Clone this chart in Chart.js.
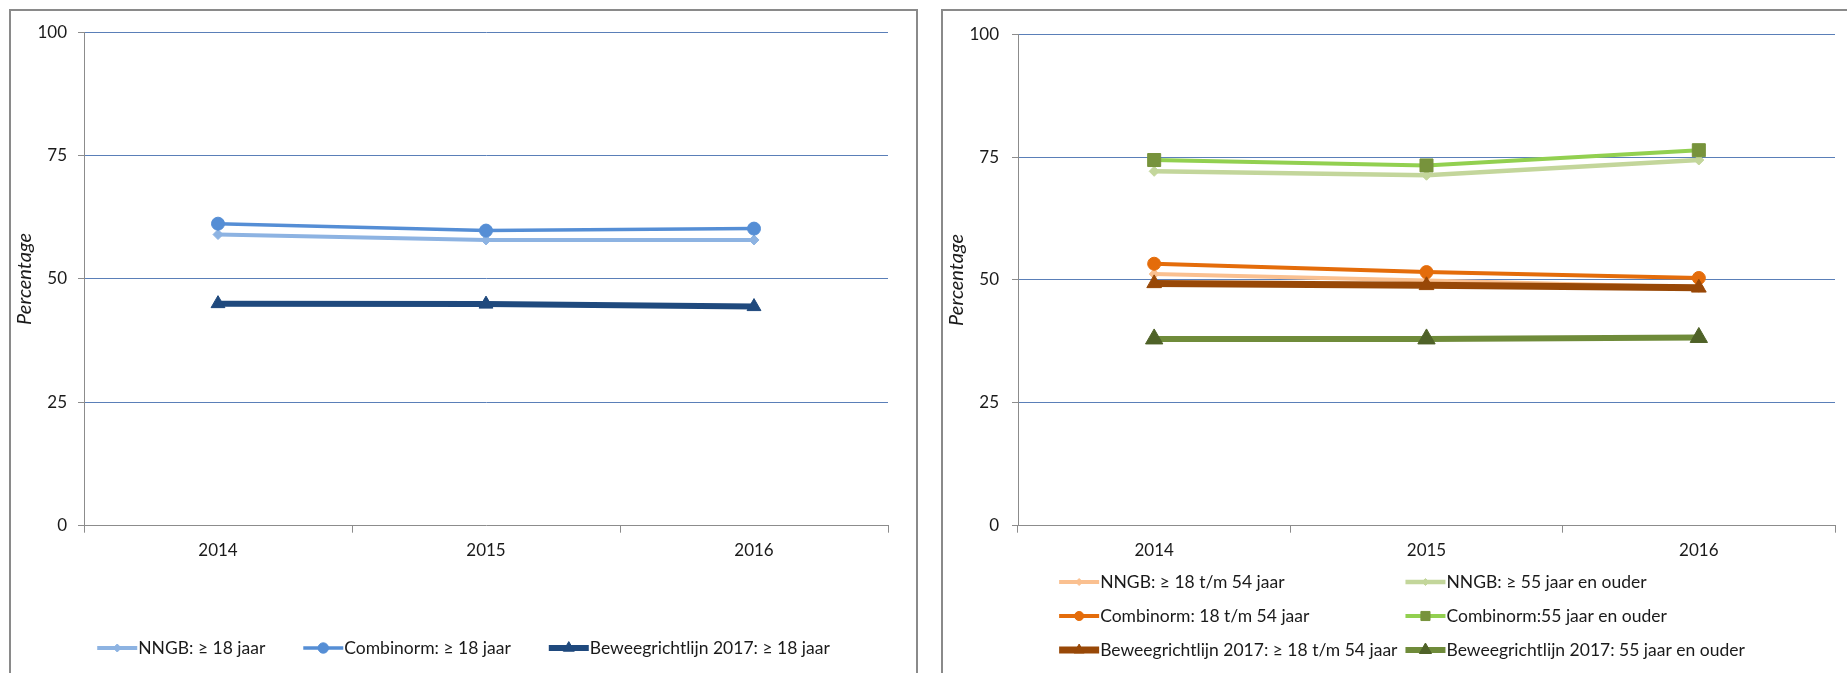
<!DOCTYPE html>
<html>
<head>
<meta charset="utf-8">
<script src="https://cdn.jsdelivr.net/npm/chart.js@4.4.1/dist/chart.umd.min.js"></script>
<style>
  html, body { margin: 0; padding: 0; background: #fff; overflow: hidden; width: 1847px; height: 673px; }
  .panel { position: absolute; top: 9px; height: 700px; border: 2px solid #8a8a8a; background: #fff; }
  #panelAll { left: 9px; width: 905px; }
  #panelAge { left: 941px; width: 918px; }
  canvas { display: block; }
</style>
</head>
<body>
<div class="panel" id="panelAll"><canvas id="chartAll" width="905" height="662"></canvas></div>
<div class="panel" id="panelAge"><canvas id="chartAge" width="918" height="662"></canvas></div>
<script>
// Survey years on the category axis
const years = ['2014', '2015', '2016'];
// Value axis: percentage from 0 to 100 in steps of 25
const yTickValues = [0, 25, 50, 75, 100];

// Adults 18+ (left chart)
const nngbAdults      = [59.0, 57.9, 57.9];
const combinormAdults = [61.2, 59.8, 60.2];
const beweegAdults    = [45.0, 44.9, 44.4];

// By age group (right chart)
const nngb18to54      = [51.2, 49.9, 48.5];
const nngb55plus      = [72.1, 71.3, 74.4];
const combinorm18to54 = [53.3, 51.6, 50.4];
const combinorm55plus = [74.4, 73.3, 76.4];
const beweeg18to54    = [49.3, 48.9, 48.4];
const beweeg55plus    = [38.0, 38.0, 38.3];

const FONT = 'Lato, "Open Sans", sans-serif';
const TEXT = '#1a1a1a';
const AXIS_GREY = '#8c8c8c';
const GRID_BLUE = '#5a7fb8';
const TICK_SIZE = 17;
const LEGEND_SIZE = 17.5;

Chart.defaults.font.family = FONT;
Chart.defaults.font.size = TICK_SIZE;
Chart.defaults.color = TEXT;

function series(label, data, line, width, style, radius, marker) {
  return {
    label, data,
    borderColor: line,
    backgroundColor: marker || line,
    borderWidth: width,
    pointStyle: style,
    pointRadius: radius,
    pointHoverRadius: radius,
    pointBackgroundColor: marker || line,
    pointBorderColor: marker || line,
    pointBorderWidth: 1,
    tension: 0,
    fill: false
  };
}

// Excel-style legend: a short line with the marker in the middle, laid out
// either as one centred row (flow) or as aligned columns (grid).
const lineLegend = {
  id: 'lineLegend',
  afterDraw(chart, args, opts) {
    const ctx = chart.ctx;
    const sets = chart.data.datasets;
    const cols = opts.cols;
    const rows = Math.ceil(sets.length / cols);
    ctx.save();
    ctx.font = opts.fontSize + 'px ' + FONT;
    ctx.textBaseline = 'middle';
    ctx.textAlign = 'left';
    const widths = sets.map(d => ctx.measureText(d.label).width);
    const itemW = i => opts.lineLen + opts.textGap + widths[i];
    const positions = [];
    if (opts.mode === 'flow') {
      for (let r = 0; r < rows; r++) {
        const idx = [];
        for (let c = 0; c < cols && r * cols + c < sets.length; c++) idx.push(r * cols + c);
        const total = idx.reduce((s, i) => s + itemW(i), 0) + opts.gap * (idx.length - 1);
        let x = (chart.width - total) / 2 + opts.shift;
        idx.forEach(i => { positions[i] = [x, chart.chartArea.bottom + opts.top + r * opts.rowStep]; x += itemW(i) + opts.gap; });
      }
    } else {
      const colW = [];
      for (let c = 0; c < cols; c++) {
        let m = 0;
        for (let r = 0; r < rows; r++) { const i = r * cols + c; if (i < sets.length) m = Math.max(m, itemW(i)); }
        colW.push(m);
      }
      const total = colW.reduce((s, w) => s + w, 0) + opts.gap * (cols - 1);
      const x0 = (chart.width - total) / 2 + opts.shift;
      sets.forEach((d, i) => {
        const c = i % cols, r = Math.floor(i / cols);
        let x = x0;
        for (let k = 0; k < c; k++) x += colW[k] + opts.gap;
        positions[i] = [x, chart.chartArea.bottom + opts.top + r * opts.rowStep];
      });
    }
    sets.forEach((d, i) => {
      const [x, y] = positions[i];
      ctx.strokeStyle = d.borderColor;
      ctx.lineWidth = d.borderWidth;
      ctx.beginPath();
      ctx.moveTo(x, y);
      ctx.lineTo(x + opts.lineLen, y);
      ctx.stroke();
      ctx.fillStyle = d.pointBackgroundColor;
      ctx.strokeStyle = d.pointBorderColor;
      ctx.lineWidth = 1;
      Chart.helpers.drawPoint(ctx, {
        pointStyle: d.pointStyle,
        radius: d.pointRadius * opts.markerScale,
        rotation: 0,
        borderWidth: 1
      }, x + opts.lineLen / 2, y);
      ctx.fillStyle = TEXT;
      ctx.fillText(d.label, x + opts.lineLen + opts.textGap, y);
    });
    ctx.restore();
  }
};

function makeChart(canvasId, datasets, cfg) {
  const canvas = document.getElementById(canvasId);
  // later series are painted on top of earlier ones
  datasets.forEach((d, i) => { d.order = datasets.length - i; });
  return new Chart(canvas, {
    type: 'line',
    data: { labels: years, datasets },
    plugins: [lineLegend],
    options: {
      responsive: false,
      animation: false,
      devicePixelRatio: 1,
      layout: { padding: { top: cfg.plotTop, right: cfg.padRight, bottom: 0, left: 0 } },
      plugins: {
        legend: { display: false },
        tooltip: { enabled: false },
        lineLegend: cfg.legend
      },
      scales: {
        x: {
          type: 'category',
          offset: true,
          border: { display: true, color: AXIS_GREY, width: 1 },
          grid: { offset: true, drawOnChartArea: false, drawTicks: true, tickLength: 7, color: AXIS_GREY, tickColor: AXIS_GREY },
          ticks: { padding: 8, color: TEXT, font: { size: TICK_SIZE }, maxRotation: 0 },
          afterFit(scale) { scale.height = canvas.height - cfg.plotBottom; }
        },
        y: {
          min: yTickValues[0],
          max: yTickValues[yTickValues.length - 1],
          afterBuildTicks(scale) { scale.ticks = yTickValues.map(v => ({ value: v })); },
          border: { display: true, color: AXIS_GREY, width: 1 },
          grid: {
            color: c => (c.tick && c.tick.value === 0) ? 'rgba(0,0,0,0)' : GRID_BLUE,
            tickColor: AXIS_GREY,
            tickLength: 6,
            lineWidth: 1
          },
          ticks: { padding: cfg.yPad, color: TEXT, font: { size: TICK_SIZE } },
          title: { display: true, text: 'Percentage', color: TEXT, font: { size: 20, style: 'italic' }, padding: { top: 2, bottom: 0 } },
          afterFit(scale) { scale.width = cfg.plotLeft; }
        }
      }
    }
  });
}

makeChart('chartAll', [
  series('NNGB: \u2265 18 jaar', nngbAdults, '#8db3e2', 4, 'rectRot', 5),
  series('Combinorm: \u2265 18 jaar', combinormAdults, '#558ed5', 3.5, 'circle', 6.5),
  series('Beweegrichtlijn 2017: \u2265 18 jaar', beweegAdults, '#1f497d', 6, 'triangle', 8)
], {
  plotLeft: 73, padRight: 28, plotTop: 19.3, plotBottom: 514.7, yPad: 11,
  legend: { mode: 'flow', cols: 3, lineLen: 40, textGap: 1, gap: 38, top: 122.3, rowStep: 0, fontSize: LEGEND_SIZE, markerScale: 0.8, shift: 0 }
});

makeChart('chartAge', [
  series('NNGB: \u2265 18 t/m 54 jaar', nngb18to54, '#fac090', 4, 'rectRot', 5),
  series('NNGB: \u2265 55 jaar en ouder', nngb55plus, '#c3d69b', 4.5, 'rectRot', 5),
  series('Combinorm: 18 t/m 54 jaar', combinorm18to54, '#e46c0a', 4, 'circle', 6.5),
  series('Combinorm:55 jaar en ouder', combinorm55plus, '#92d050', 4, 'rect', 9.2, '#77933c'),
  series('Beweegrichtlijn 2017: \u2265 18 t/m 54 jaar', beweeg18to54, '#984807', 7, 'triangle', 8.5),
  series('Beweegrichtlijn 2017: 55 jaar en ouder', beweeg55plus, '#6f8b3a', 6, 'triangle', 10, '#4f6228')
], {
  plotLeft: 75, padRight: 26, plotTop: 19.3, plotBottom: 514.7, yPad: 13,
  legend: { mode: 'grid', cols: 2, lineLen: 40, textGap: 1, gap: 8, top: 56.3, rowStep: 34, fontSize: LEGEND_SIZE, markerScale: 0.7, shift: 0 }
});
</script>
</body>
</html>
